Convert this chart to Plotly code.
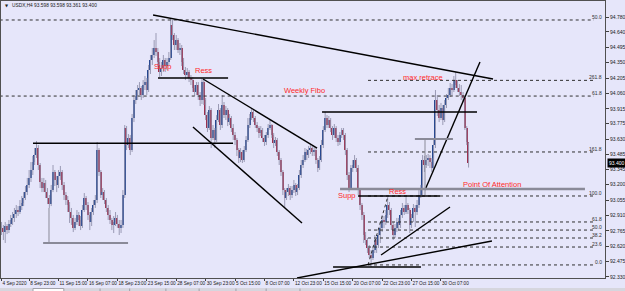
import plotly.graph_objects as go

# ---------------- data (USDX, H4) ----------------
first_open = 92.810
closes = [
    92.792, 92.753, 92.810, 92.772, 92.829, 92.867, 92.886, 92.923, 92.961, 92.942,
    92.998, 93.027, 93.074, 93.130, 93.197, 93.263, 93.338, 93.413, 93.479, 93.545,
    93.385, 93.225, 93.168, 93.215, 93.130, 93.074, 93.017, 93.149, 93.319, 93.244,
    93.197, 93.282, 93.319, 93.197, 93.102, 93.055, 93.008, 92.942, 92.886, 92.792,
    92.848, 92.914, 92.867, 92.810, 92.961, 93.074, 93.008, 92.914, 92.848, 92.942,
    93.008, 93.055, 93.526, 93.319, 93.102, 93.130, 93.055, 92.980, 92.914, 92.867,
    92.820, 92.848, 92.886, 92.829, 92.792, 92.820, 93.102, 93.734, 93.573, 93.640,
    93.526, 93.828, 93.998, 94.036, 94.092, 94.111, 94.045, 94.139, 94.167, 94.092,
    94.280, 94.375, 94.422, 94.488, 94.450, 94.356, 94.262, 94.299, 94.375, 94.318,
    94.356, 94.394, 94.705, 94.610, 94.516, 94.563, 94.469, 94.488, 94.356, 94.280,
    94.233, 94.262, 94.205, 94.186, 94.111, 94.073, 94.139, 94.045, 93.998, 94.167,
    93.998, 93.856, 93.734, 93.903, 93.640, 93.715, 93.621, 93.809, 93.903, 93.762,
    93.951, 93.856, 93.903, 93.790, 93.828, 93.734, 93.668, 93.621, 93.526, 93.451,
    93.508, 93.432, 93.526, 93.621, 93.762, 93.828, 93.885, 93.828, 93.762, 93.734,
    93.687, 93.715, 93.640, 93.602, 93.668, 93.734, 93.762, 93.668, 93.592, 93.621,
    93.508, 93.432, 93.319, 93.149, 93.074, 93.130, 93.168, 93.102, 93.149, 93.197,
    93.130, 93.168, 93.291, 93.385, 93.432, 93.508, 93.479, 93.526, 93.545, 93.508,
    93.526, 93.432, 93.357, 93.432, 93.573, 93.715, 93.828, 93.762, 93.809, 93.734,
    93.668, 93.734, 93.640, 93.602, 93.668, 93.715, 93.668, 93.526, 93.291, 93.168,
    93.357, 93.385, 93.432, 93.357, 93.149, 93.008, 92.914, 92.725, 92.678, 92.603,
    92.537, 92.509, 92.584, 92.678, 92.631, 92.725, 92.791, 92.867, 92.848, 92.914,
    93.008, 92.961, 92.820, 92.725, 92.791, 92.848, 92.820, 92.914, 92.980, 92.942,
    93.008, 92.961, 92.820, 92.886, 92.980, 92.942, 93.008, 93.102, 93.149, 93.432,
    93.385, 93.432, 93.451, 93.413, 93.357, 93.573, 93.998, 93.903, 93.828, 93.922,
    93.809, 93.951, 94.017, 94.045, 94.111, 94.092, 94.186, 94.139, 94.111, 94.073,
    94.045, 94.017, 93.734, 93.598, 93.400,
]
highs = [
    92.848, 92.820, 92.848, 92.829, 92.867, 92.914, 92.942, 92.980, 93.008, 92.998,
    93.055, 93.093, 93.130, 93.187, 93.263, 93.338, 93.413, 93.470, 93.545, 93.611,
    93.573, 93.404, 93.263, 93.263, 93.244, 93.168, 93.102, 93.197, 93.385, 93.338,
    93.282, 93.338, 93.376, 93.338, 93.225, 93.130, 93.093, 93.036, 92.980, 92.914,
    92.886, 92.961, 92.942, 92.904, 93.008, 93.121, 93.093, 93.036, 92.942, 92.980,
    93.055, 93.102, 93.602, 93.545, 93.338, 93.168, 93.149, 93.074, 93.008, 92.961,
    92.886, 92.904, 92.942, 92.914, 92.867, 92.867, 93.149, 93.762, 93.753, 93.677,
    93.668, 93.866, 94.045, 94.092, 94.139, 94.167, 94.130, 94.186, 94.224, 94.205,
    94.328, 94.422, 94.488, 94.563, 94.629, 94.488, 94.394, 94.356, 94.422, 94.394,
    94.394, 94.450, 94.770, 94.752, 94.629, 94.610, 94.582, 94.535, 94.516, 94.394,
    94.309, 94.299, 94.280, 94.233, 94.214, 94.139, 94.167, 94.167, 94.073, 94.205,
    94.186, 94.017, 93.885, 93.941, 93.922, 93.762, 93.734, 93.856, 93.960, 93.922,
    94.045, 93.979, 93.941, 93.922, 93.866, 93.847, 93.771, 93.696, 93.640, 93.545,
    93.545, 93.526, 93.564, 93.658, 93.828, 93.866, 93.922, 93.903, 93.847, 93.790,
    93.752, 93.752, 93.734, 93.668, 93.696, 93.771, 93.809, 93.771, 93.687, 93.649,
    93.640, 93.526, 93.451, 93.338, 93.168, 93.168, 93.206, 93.187, 93.187, 93.244,
    93.215, 93.206, 93.338, 93.432, 93.479, 93.545, 93.536, 93.564, 93.573, 93.564,
    93.564, 93.545, 93.451, 93.470, 93.621, 93.752, 93.885, 93.856, 93.847, 93.828,
    93.752, 93.771, 93.752, 93.668, 93.696, 93.734, 93.734, 93.687, 93.545, 93.319,
    93.385, 93.432, 93.479, 93.451, 93.385, 93.168, 93.027, 92.942, 92.754, 92.697,
    92.631, 92.584, 92.622, 92.725, 92.697, 92.772, 92.848, 92.914, 92.904, 92.961,
    93.083, 93.036, 92.980, 92.848, 92.829, 92.886, 92.886, 92.961, 93.027, 93.008,
    93.083, 93.027, 92.980, 92.923, 93.017, 93.008, 93.055, 93.149, 93.197, 93.479,
    93.470, 93.479, 93.489, 93.479, 93.451, 93.621, 94.092, 94.045, 93.951, 93.970,
    93.951, 93.998, 94.054, 94.111, 94.158, 94.148, 94.224, 94.262, 94.186, 94.148,
    94.139, 94.073, 94.036, 93.752, 93.598,
]
lows = [
    92.725, 92.678, 92.650, 92.734, 92.744, 92.801, 92.820, 92.848, 92.886, 92.904,
    92.923, 92.961, 92.998, 93.055, 93.102, 93.168, 93.225, 93.291, 93.385, 93.451,
    93.338, 93.168, 93.130, 93.130, 93.074, 93.017, 92.980, 92.998, 93.130, 93.187,
    93.130, 93.168, 93.244, 93.149, 93.055, 93.008, 92.942, 92.839, 92.820, 92.753,
    92.772, 92.820, 92.810, 92.772, 92.792, 92.942, 92.961, 92.867, 92.772, 92.810,
    92.914, 92.980, 93.027, 93.282, 93.074, 93.055, 93.017, 92.942, 92.867, 92.829,
    92.772, 92.744, 92.810, 92.792, 92.725, 92.744, 92.792, 93.074, 93.526, 93.545,
    93.479, 93.508, 93.790, 93.960, 93.998, 94.045, 93.998, 94.017, 94.092, 94.045,
    94.073, 94.243, 94.328, 94.394, 94.413, 94.318, 94.214, 94.224, 94.262, 94.262,
    94.280, 94.318, 94.375, 94.563, 94.469, 94.469, 94.441, 94.422, 94.318, 94.243,
    94.186, 94.205, 94.167, 94.139, 94.073, 94.036, 94.045, 93.998, 93.941, 93.960,
    93.951, 93.809, 93.696, 93.715, 93.545, 93.621, 93.545, 93.602, 93.790, 93.715,
    93.734, 93.828, 93.809, 93.752, 93.762, 93.696, 93.621, 93.573, 93.470, 93.404,
    93.413, 93.404, 93.413, 93.508, 93.602, 93.734, 93.809, 93.790, 93.734, 93.696,
    93.640, 93.658, 93.602, 93.564, 93.573, 93.640, 93.715, 93.640, 93.545, 93.564,
    93.470, 93.385, 93.282, 93.102, 92.980, 93.055, 93.093, 93.055, 93.074, 93.121,
    93.093, 93.102, 93.149, 93.263, 93.357, 93.413, 93.432, 93.451, 93.489, 93.470,
    93.470, 93.395, 93.319, 93.338, 93.413, 93.545, 93.696, 93.734, 93.734, 93.696,
    93.621, 93.640, 93.602, 93.564, 93.573, 93.640, 93.621, 93.479, 93.244, 93.130,
    93.149, 93.319, 93.357, 93.319, 93.102, 92.961, 92.867, 92.650, 92.631, 92.556,
    92.509, 92.424, 92.490, 92.556, 92.556, 92.603, 92.650, 92.754, 92.791, 92.820,
    92.886, 92.914, 92.772, 92.678, 92.697, 92.753, 92.772, 92.791, 92.886, 92.914,
    92.923, 92.923, 92.744, 92.791, 92.848, 92.801, 92.914, 92.980, 93.074, 93.102,
    93.319, 93.357, 93.376, 93.357, 93.319, 93.338, 93.545, 93.847, 93.790, 93.809,
    93.762, 93.790, 93.922, 93.998, 94.026, 94.036, 94.073, 94.111, 94.073, 94.036,
    93.998, 93.979, 93.715, 93.573, 93.361,
]

x_tick_idx = [0, 15, 31, 47, 63, 79, 95, 111, 127, 143, 159, 175, 191, 207, 223, 239]
x_tick_text = ["4 Sep 2020", "8 Sep 23:00", "11 Sep 15:00", "16 Sep 07:00", "18 Sep 23:00",
               "23 Sep 15:00", "28 Sep 07:00", "30 Sep 23:00", "5 Oct 15:00", "8 Oct 07:00",
               "12 Oct 23:00", "15 Oct 15:00", "20 Oct 07:00", "22 Oct 23:00", "27 Oct 15:00",
               "30 Oct 07:00"]
y_tick_vals = [94.780, 94.640, 94.495, 94.350, 94.205, 94.060, 93.915, 93.775, 93.630,
               93.485, 93.345, 93.200, 93.055, 92.910, 92.765, 92.620, 92.475, 92.330]

title_text = "USDX,H4 93.598 93.598 93.361 93.400"
last_price = 93.400

# drawn objects (bar index, price)
weekly_fibo = [("50.0", 94.752), ("61.8", 94.035)]
fibo_levels = [("261.8", 94.183), ("161.8", 93.508), ("100.0", 93.093), ("61.8", 92.848),
               ("50.0", 92.772), ("38.2", 92.697), ("23.6", 92.612), ("0.0", 92.443)]
black_lines = [
    (82.4, 94.799, 267.3, 94.196),   # big descending trendline
    (17.1, 93.590, 125.9, 93.590),   # level
    (85.1, 94.205, 123.2, 94.205),   # supp/ress
    (109.6, 94.196, 171.6, 93.545),  # channel top
    (104.1, 93.743, 163.4, 92.839),  # channel bottom
    (174.3, 93.885, 258.6, 93.885),  # level
    (193.9, 93.093, 238.5, 93.093),  # level
    (180.3, 92.424, 228.1, 92.424),  # level at low
    (230.3, 93.149, 260.2, 94.356),  # steep trendline
    (206.4, 92.537, 243.9, 92.989),  # short rising line
    (160.7, 92.320, 266.7, 92.669),  # long rising line
]
gray_lines = [
    (184.1, 93.159, 317.3, 93.159, 2.5),
    (224.8, 93.630, 245.5, 93.630, 2),
    (230.3, 93.621, 230.3, 93.102, 1),
    (22.6, 92.650, 68.8, 92.650, 2),
    (25.8, 92.980, 25.8, 92.650, 1),
]
red_labels = [
    ("Supp", 87.8, 94.309), ("Ress", 110.1, 94.280), ("Weekly Fibo", 165.0, 94.083),
    ("max retrace", 229.2, 94.214), ("Supp", 187.9, 93.093), ("Ress", 215.6, 93.131),
    ("Point Of Attention", 266.7, 93.197),
]

# ---------------- figure ----------------
opens = [first_open] + closes[:-1]
idx = list(range(len(closes)))

BG = "#E6E6FA"
BULL = "#24468F"
BEAR = "#9C2F4E"
WICK = "#9A9AB4"
FONT = "Liberation Sans"

fig = go.Figure()

wx, wy = [], []
for i, (h, l) in enumerate(zip(highs, lows)):
    wx += [i, i, None]
    wy += [l, h, None]
fig.add_trace(go.Scatter(x=wx, y=wy, mode="lines", line=dict(color=WICK, width=1),
                         hoverinfo="skip", showlegend=False))

base = [min(o, c) for o, c in zip(opens, closes)]
hgt = [abs(c - o) for o, c in zip(opens, closes)]
cols = [BULL if c >= o else BEAR for o, c in zip(opens, closes)]
fig.add_trace(go.Bar(x=idx, y=hgt, base=base, width=0.75, marker=dict(color=cols, line=dict(width=0)),
                     showlegend=False))

shapes = []
x_end = 322.2
for name, v in weekly_fibo:
    shapes.append(dict(type="line", xref="x", yref="y", x0=-1, x1=x_end, y0=v, y1=v,
                       line=dict(color="#303030", width=1, dash="dot")))
for name, v in fibo_levels:
    shapes.append(dict(type="line", xref="x", yref="y", x0=199.3, x1=x_end, y0=v, y1=v,
                       line=dict(color="#303030", width=1, dash="dot")))
shapes.append(dict(type="line", xref="x", yref="y", x0=199.3, y0=92.443, x1=210.2, y1=93.093,
                   line=dict(color="#303030", width=1, dash="dot")))
for (x0, y0, x1, y1) in black_lines:
    shapes.append(dict(type="line", xref="x", yref="y", x0=x0, y0=y0, x1=x1, y1=y1,
                       line=dict(color="#000000", width=1.4)))
for (x0, y0, x1, y1, w) in gray_lines:
    shapes.append(dict(type="line", xref="x", yref="y", x0=x0, y0=y0, x1=x1, y1=y1,
                       line=dict(color="#8A8A98", width=w)))

# bottom tab strip (below the time labels)
shapes.append(dict(type="rect", xref="paper", yref="paper", x0=-0.01, x1=1.05, y0=-0.0505, y1=-0.0361,
                   fillcolor="#D6D6DE", line=dict(width=0), layer="above"))
shapes.append(dict(type="rect", xref="paper", yref="paper", x0=0.053, x1=0.104, y0=-0.0505, y1=-0.0380,
                   fillcolor="#FFFFFF", line=dict(color="#A0A0A8", width=1), layer="above"))
for px in [0.164, 0.213, 0.273, 0.328, 0.389, 0.439, 0.495]:
    shapes.append(dict(type="line", xref="paper", yref="paper", x0=px, x1=px, y0=-0.0505, y1=-0.038,
                       line=dict(color="#A0A0A8", width=1)))

annotations = []
for name, v in weekly_fibo + fibo_levels:
    annotations.append(dict(x=327.6, y=v, xref="x", yref="y", text=name, showarrow=False,
                            xanchor="right", yanchor="bottom", yshift=-2,
                            font=dict(family=FONT, size=5, color="#303030")))
for name, x, y in red_labels:
    annotations.append(dict(x=x, y=y, xref="x", yref="y", text=name, showarrow=False,
                            xanchor="center", yanchor="middle",
                            font=dict(family=FONT, size=7.5, color="#FF2A2A")))
annotations.append(dict(x=0.0149, y=0.982, xref="paper", yref="paper", text=title_text,
                        showarrow=False, xanchor="left", yanchor="middle",
                        font=dict(family=FONT, size=4.8, color="#202020")))
annotations.append(dict(x=0.0035, y=0.982, xref="paper", yref="paper", text="▼",
                        showarrow=False, xanchor="left", yanchor="middle",
                        font=dict(family="DejaVu Sans", size=4, color="#202020")))
annotations.append(dict(x=1.0035, y=last_price, xref="paper", yref="y", text=f"{last_price:.3f}",
                        showarrow=False, xanchor="left", yanchor="middle", bgcolor="#000000",
                        borderpad=1, font=dict(family=FONT, size=5, color="#FFFFFF")))

fig.update_layout(
    width=625, height=291,
    margin=dict(l=1, r=20, t=1, b=13, pad=0),
    paper_bgcolor=BG, plot_bgcolor=BG,
    shapes=shapes, annotations=annotations,
    showlegend=False, bargap=0,
    xaxis=dict(range=[-0.3, 328.2], showgrid=False, zeroline=False,
               tickmode="array", tickvals=x_tick_idx, ticktext=x_tick_text,
               ticks="outside", ticklen=2, tickcolor="#404040", tickangle=0,
               ticklabelposition="outside right",
               tickfont=dict(family=FONT, size=4.7, color="#202020"),
               showline=True, linecolor="#505050", linewidth=1, mirror=True,
               automargin=False, fixedrange=True),
    yaxis=dict(range=[92.320, 94.931], side="right", showgrid=False, zeroline=False,
               tickmode="array", tickvals=y_tick_vals, ticktext=[f"{v:.3f}" for v in y_tick_vals],
               ticks="outside", ticklen=3, tickcolor="#404040",
               tickfont=dict(family=FONT, size=5, color="#202020"),
               showline=True, linecolor="#505050", linewidth=1, mirror=True,
               automargin=False, fixedrange=True),
)

fig.write_html("out.html")
